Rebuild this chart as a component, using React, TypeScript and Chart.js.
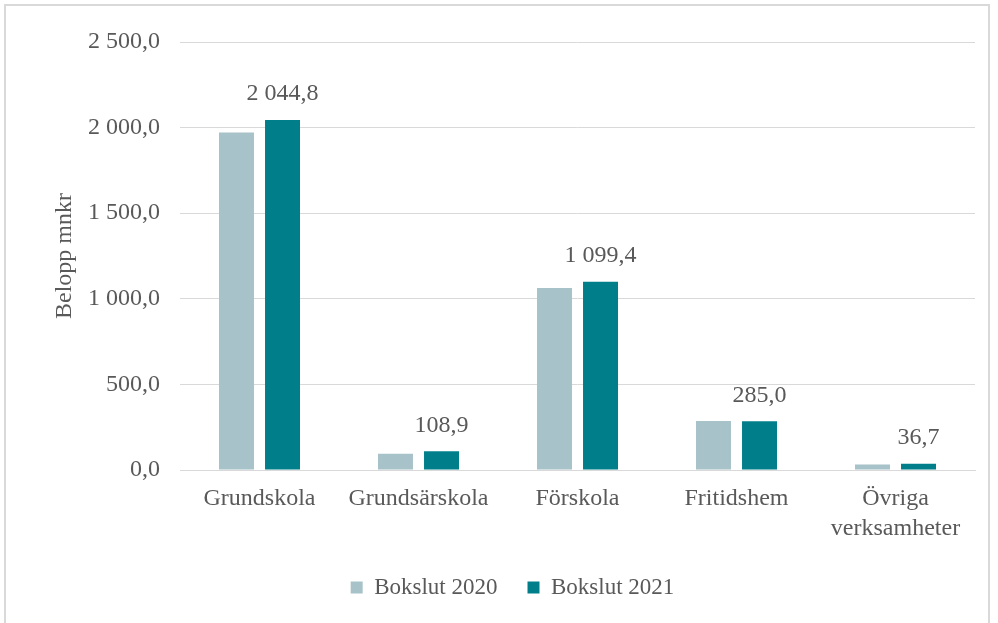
import React, { useEffect, useRef } from "react";
import { Chart, registerables } from "chart.js";

Chart.register(...registerables);

const categories: (string | string[])[] = [
  "Grundskola",
  "Grundsärskola",
  "Förskola",
  "Fritidshem",
  ["Övriga", "verksamheter"],
];
const bokslut2020: number[] = [1972, 95, 1063, 286, 32];
const bokslut2021: number[] = [2044.8, 108.9, 1099.4, 285.0, 36.7];
const seriesNames: string[] = ["Bokslut 2020", "Bokslut 2021"];
const yTicks: number[] = [0, 500, 1000, 1500, 2000, 2500];

const COLOR_2020 = "#A7C2C8";
const COLOR_2021 = "#007F8A";
const TEXT = "#595959";
const GRID = "#D9D9D9";
const FONT = "'Liberation Serif', 'Times New Roman', serif";

function fmt(v: number): string {
  const s = v.toFixed(1);
  const [i, d] = s.split(".");
  const withSep = i.replace(/\B(?=(\d{3})+(?!\d))/g, " ");
  return withSep + "," + d;
}

const dataLabelPlugin = {
  id: "dataLabels2021",
  afterDatasetsDraw(chart: any) {
    const ctx = chart.ctx;
    const meta = chart.getDatasetMeta(1);
    ctx.save();
    ctx.font = `24px ${FONT}`;
    ctx.fillStyle = TEXT;
    ctx.textAlign = "center";
    ctx.textBaseline = "middle";
    meta.data.forEach((bar: any, i: number) => {
      const v = chart.data.datasets[1].data[i] as number;
      ctx.fillText(fmt(v), bar.x, bar.y - 26);
    });
    ctx.restore();
  },
};

export default function App() {
  const ref = useRef<HTMLCanvasElement | null>(null);
  useEffect(() => {
    if (!ref.current) return;
    const chart = new Chart(ref.current, {
      type: "bar",
      data: {
        labels: categories,
        datasets: [
          {
            label: seriesNames[0],
            data: bokslut2020,
            backgroundColor: COLOR_2020,
            categoryPercentage: 0.579,
            barPercentage: 0.76,
          },
          {
            label: seriesNames[1],
            data: bokslut2021,
            backgroundColor: COLOR_2021,
            categoryPercentage: 0.579,
            barPercentage: 0.76,
          },
        ],
      },
      options: {
        responsive: false,
        animation: false,
        devicePixelRatio: 1,
        layout: { padding: { top: 42, left: 50, right: 23, bottom: 14 } },
        plugins: {
          tooltip: { enabled: false },
          legend: {
            position: "bottom",
            labels: {
              boxWidth: 12,
              boxHeight: 12,
              padding: 30,
              color: TEXT,
              font: { family: FONT, size: 23 },
            },
          },
        },
        scales: {
          x: {
            grid: { display: false, drawTicks: false },
            border: { color: GRID },
            ticks: {
              color: TEXT,
              font: { family: FONT, size: 24, lineHeight: 1.25 },
              padding: 14,
              maxRotation: 0,
              autoSkip: false,
            },
            afterFit(scale: any) {
              scale.height = 76;
            },
          },
          y: {
            min: 0,
            max: 2500,
            afterBuildTicks(scale: any) {
              scale.ticks = yTicks.map((v) => ({ value: v }));
            },
            grid: { color: GRID, drawTicks: false },
            border: { display: false },
            ticks: {
              color: TEXT,
              font: { family: FONT, size: 24 },
              padding: 20,
              callback: (v: any) => fmt(Number(v)),
            },
            title: {
              display: true,
              text: "Belopp mnkr",
              color: TEXT,
              font: { family: FONT, size: 24 },
              padding: { top: 0, bottom: 0 },
            },
            afterFit(scale: any) {
              scale.width = 130;
            },
          },
        },
      },
      plugins: [dataLabelPlugin],
    });
    return () => chart.destroy();
  }, []);

  return (
    <div style={{ position: "fixed", left: 0, top: 0, width: 998, height: 623, background: "#fff" }}>
      <div
        style={{
          position: "absolute",
          left: 4,
          top: 4,
          width: 986,
          height: 640,
          borderLeft: "2px solid #D9D9D9",
          borderTop: "2px solid #D9D9D9",
          borderRight: "2px solid #D9D9D9",
          boxSizing: "border-box",
        }}
      />
      <canvas
        ref={ref}
        width={998}
        height={623}
        style={{ position: "absolute", left: 0, top: 0, width: 998, height: 623 }}
      />
    </div>
  );
}
